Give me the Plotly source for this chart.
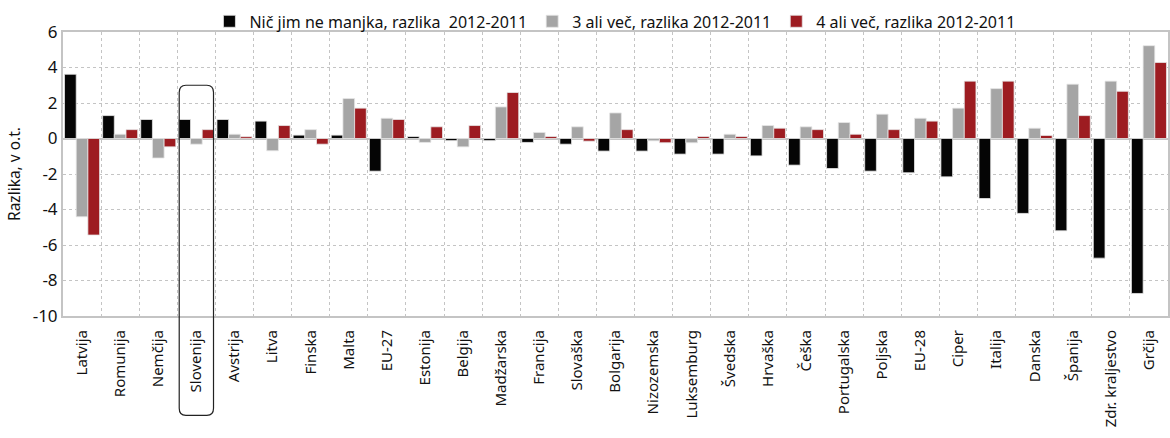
import plotly.graph_objects as go

categories = ["Latvija", "Romunija", "Nemčija", "Slovenija", "Avstrija", "Litva", "Finska",
              "Malta", "EU-27", "Estonija", "Belgija", "Madžarska", "Francija", "Slovaška",
              "Bolgarija", "Nizozemska", "Luksemburg", "Švedska", "Hrvaška", "Češka",
              "Portugalska", "Poljska", "EU-28", "Ciper", "Italija", "Danska", "Španija",
              "Zdr. kraljestvo", "Grčija"]

nic_jim_ne_manjka = [3.62, 1.29, 1.07, 1.07, 1.07, 0.98, 0.19, 0.19, -1.84, 0.11, -0.12, -0.12,
                     -0.22, -0.32, -0.71, -0.71, -0.88, -0.88, -0.98, -1.5, -1.69, -1.84, -1.93,
                     -2.16, -3.38, -4.22, -5.2, -6.74, -8.73]
tri_ali_vec = [-4.41, 0.24, -1.1, -0.32, 0.24, -0.69, 0.5, 2.25, 1.14, -0.22, -0.47, 1.78,
               0.34, 0.66, 1.44, -0.13, -0.24, 0.24, 0.73, 0.66, 0.9, 1.37, 1.14, 1.71, 2.81,
               0.58, 3.06, 3.23, 5.23]
stiri_ali_vec = [-5.44, 0.5, -0.47, 0.5, 0.1, 0.73, -0.32, 1.71, 1.07, 0.66, 0.73, 2.59,
                 0.11, -0.15, 0.5, -0.24, 0.11, 0.11, 0.58, 0.5, 0.24, 0.5, 0.98, 3.23, 3.23,
                 0.17, 1.29, 2.66, 4.28]

series_names = ["Nič jim ne manjka, razlika  2012-2011",
                "3 ali več, razlika 2012-2011",
                "4 ali več, razlika 2012-2011"]
y_ticks = [6, 4, 2, 0, -2, -4, -6, -8, -10]
highlight = "Slovenija"

FONT = "Noto Sans"
colors = ["#050505", "#a5a5a5", "#9d1c21"]

fig = go.Figure()
for name, vals, col in zip(series_names, [nic_jim_ne_manjka, tri_ali_vec, stiri_ali_vec], colors):
    fig.add_trace(go.Bar(x=categories, y=vals, name=name,
                         marker=dict(color=col, line=dict(color="#e6e6e6", width=0.8))))

fig.update_layout(
    width=1170, height=438,
    margin=dict(l=63, r=2, t=32, b=122, autoexpand=False),
    paper_bgcolor="white", plot_bgcolor="white",
    barmode="group", bargap=0.08, bargroupgap=0.0,
    font=dict(family=FONT, color="#111111", size=15),
    legend=dict(orientation="h", x=0.179, y=0.99, xref="container", yref="container",
                xanchor="left", yanchor="top",
                font=dict(size=16), itemwidth=30, traceorder="normal",
                bgcolor="rgba(0,0,0,0)"),
    showlegend=True,
)
fig.update_xaxes(
    type="category", tickangle=-90, tickson="boundaries", automargin=False,
    showgrid=True, gridcolor="#c4c4c4", griddash="dot", gridwidth=1,
    showline=True, linecolor="#c4c4c4", linewidth=2, mirror=True,
    ticks="", tickfont=dict(size=15), ticklabelstandoff=6,
)
fig.update_yaxes(
    range=[-10, 6], tickvals=y_ticks, ticktext=[str(v) for v in y_ticks], automargin=False,
    showgrid=True, gridcolor="#c4c4c4", griddash="dot", gridwidth=1,
    zeroline=True, zerolinecolor="#c4c4c4", zerolinewidth=2,
    showline=True, linecolor="#c4c4c4", linewidth=2, mirror=True,
    tickfont=dict(size=17), ticks="",
    title=dict(text="Razlika, v o.t.", font=dict(size=15.5), standoff=8),
)

# rounded highlight box around Slovenija
n = len(categories)
i = categories.index(highlight)
x0 = (i + 0.5) / n - 0.45 / n
x1 = (i + 0.5) / n + 0.45 / n
y_top = (3.0 - (-10)) / 16.0
y_bot = -0.35
rx, ry = 0.006, 0.025
path = (f"M {x0+rx},{y_top} L {x1-rx},{y_top} Q {x1},{y_top} {x1},{y_top-ry} "
        f"L {x1},{y_bot+ry} Q {x1},{y_bot} {x1-rx},{y_bot} "
        f"L {x0+rx},{y_bot} Q {x0},{y_bot} {x0},{y_bot+ry} "
        f"L {x0},{y_top-ry} Q {x0},{y_top} {x0+rx},{y_top} Z")
fig.add_shape(type="path", path=path, xref="paper", yref="paper",
              line=dict(color="#222222", width=1.2), fillcolor="rgba(0,0,0,0)", layer="above")

fig.write_html("out.html", config={"displayModeBar": False},
               post_script="document.body.style.margin='0px';")
